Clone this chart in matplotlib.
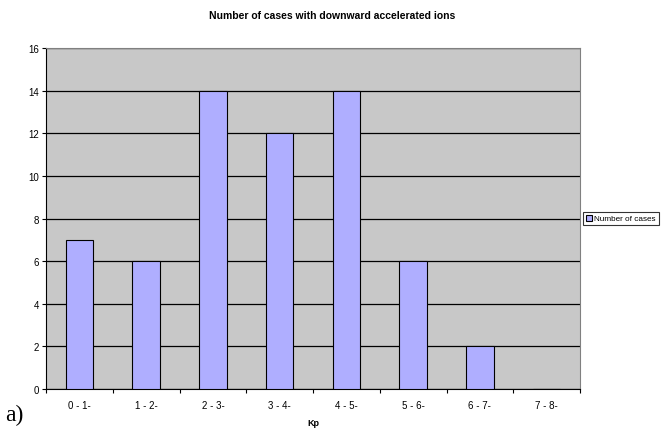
import numpy as np
import matplotlib
matplotlib.use("Agg")
import matplotlib.pyplot as plt

plt.rcParams['font.family'] = ['Liberation Sans', 'DejaVu Sans']

kp_bins = ["0 - 1-", "1 - 2-", "2 - 3-", "3 - 4-", "4 - 5-", "5 - 6-", "6 - 7-", "7 - 8-"]
n_cases = [7, 6, 14, 12, 14, 6, 2, 0]

fig = plt.figure(figsize=(6.64, 4.31), dpi=100)
ax = fig.add_axes([0.0693, 0.0951, 0.8042, 0.7912])

x = np.arange(len(kp_bins))
ax.set_facecolor('#c8c8c8')
ax.grid(axis='y', color='black', linewidth=0.9)
ax.set_axisbelow(True)
bars = ax.bar(x, n_cases, width=0.41, color='#afaeff', edgecolor='black',
              linewidth=0.8, label='Number of cases', zorder=3)

ax.set_xlim(-0.5, len(kp_bins) - 0.5)
ax.set_ylim(0, 16)
ax.set_yticks(np.arange(0, 17, 2))
ax.set_xticks(x)
ax.set_xticklabels(kp_bins, fontsize=7)
ax.tick_params(axis='y', labelsize=7, length=3, width=0.8, pad=2)
ax.tick_params(axis='x', length=0, pad=8)
# minor ticks between categories like Excel
ax.set_xticks(np.arange(-0.5, len(kp_bins)), minor=True)
ax.tick_params(axis='x', which='minor', length=3, width=0.8, direction='out')

for s in ['top', 'right']:
    ax.spines[s].set_color('#808080')
for s in ['left', 'bottom']:
    ax.spines[s].set_color('black')

ax.set_xlabel('Kp', fontsize=6.5, fontweight='bold', labelpad=6)
fig.text(0.5, 0.963, 'Number of cases with downward accelerated ions',
         ha='center', va='center', fontsize=7.5, fontweight='bold')

leg = ax.legend(loc='center left', bbox_to_anchor=(1.002, 0.50), fontsize=5.9,
                frameon=True, fancybox=False, edgecolor='black',
                handlelength=0.8, handleheight=0.8, handletextpad=0.25,
                borderpad=0.35, borderaxespad=0.2)
leg.get_frame().set_linewidth(0.8)

fig.text(0.008, 0.035, 'a)', fontsize=17, family='Liberation Serif',
         ha='left', va='center')

fig.savefig('out.png', dpi=100)
